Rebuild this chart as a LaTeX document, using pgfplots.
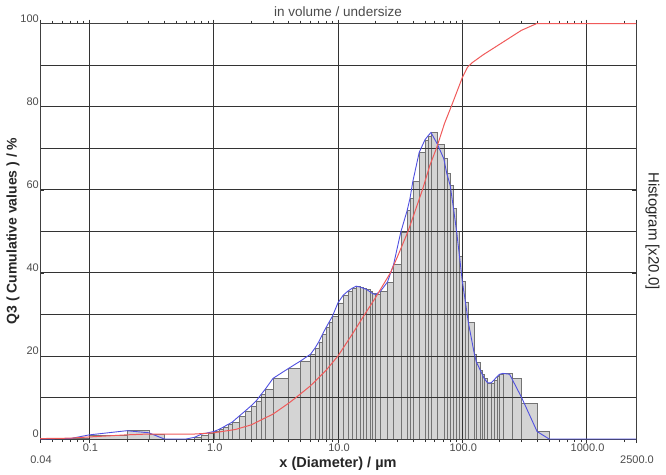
\documentclass[border=0pt]{standalone}
\usepackage{fontspec}
\setmainfont{Liberation Sans}
\usepackage{pgfplots}
\usepackage{pgfplotstable}
\pgfplotsset{compat=1.18}

\definecolor{histfill}{RGB}{212,212,212}
\definecolor{histedge}{RGB}{115,115,115}
\definecolor{cumred}{RGB}{240,90,90}
\definecolor{densblue}{RGB}{80,80,225}
\definecolor{labgray}{RGB}{75,75,75}

% histogram bars: left edge, height (last row = right edge of last bar)
\pgfplotstableread{
x h
0.04 0
0.07 0.1
0.1 0.9
0.2 2.0
0.3 1.2
0.4 0
0.5 0
0.6 0
0.7 0.5
0.8 1.0
0.9 1.3
1.0 1.8
1.1 2.3
1.2 2.9
1.3 3.5
1.4 4.0
1.6 5.5
1.8 6.8
2.0 8.0
2.2 9.2
2.4 10.7
2.6 12.0
3.0 14.6
4.0 17.0
5.0 18.8
6.0 20.4
6.5 21.8
7.0 23.4
7.5 25.2
8.0 26.8
8.5 28.2
9.0 29.5
10 32.8
11 34.6
12 35.6
13 36.3
14 36.8
15 36.6
16 36.3
17 36.0
18 35.5
19 35.0
20 34.8
22 35.6
25 37.8
28 42.0
32 49.8
36 55.0
38 58.0
40 62.0
45 69.0
50 72.0
53 73.0
56 73.8
63 71.0
71 67.5
75 64.0
80 61.0
85 55.5
90 50.0
95 44.0
100 38.0
106 33.0
112 28.0
125 20.5
130 18.5
140 16.5
145 15.5
150 14.6
160 13.5
170 13.5
180 14.2
190 15.0
200 15.6
212 15.8
250 14.6
300 8.5
400 1.8
500 0
}\bars

% density curve (blue)
\pgfplotstableread{
x d
0.04 0
0.07 0.1
0.1 1.0
0.2 2.0
0.3 1.5
0.4 0
0.5 0
0.6 0
0.7 0.4
0.8 1.2
0.9 1.5
1.0 1.8
1.1 2.3
1.2 2.9
1.3 3.5
1.4 4.0
1.6 5.5
1.8 6.8
2.0 8.0
2.2 9.2
2.4 10.7
2.6 12.0
3.0 14.6
4.0 17.0
5.0 18.8
6.0 20.4
6.5 21.8
7.0 23.4
7.5 25.2
8.0 26.8
8.5 28.2
9.0 29.5
10 32.8
11 34.6
12 35.6
13 36.3
14 36.8
15 36.6
16 36.3
17 36.0
18 35.5
19 35.0
20 34.8
22 35.6
25 37.8
28 42.0
32 49.8
36 55.0
38 58.0
40 62.0
45 69.0
50 72.0
53 73.0
56 73.8
63 71.0
71 67.5
75 64.0
80 61.0
85 55.5
90 50.0
95 44.0
100 38.0
106 33.0
112 28.0
125 20.5
130 18.5
140 16.5
145 15.5
150 14.6
160 13.5
170 13.5
180 14.2
190 15.0
200 15.6
212 15.8
240 15.6
250 14.6
300 10.0
400 1.8
500 0
2500 0
}\dens

% cumulative undersize (red)
\pgfplotstableread{
x q
0.04 0.1
0.07 0.2
0.1 0.5
0.2 1.0
0.3 1.2
0.4 1.2
0.7 1.2
0.8 1.3
1.0 1.5
1.5 2.3
2.0 3.4
3.0 6.0
4.0 8.6
4.6 10.0
6.0 12.8
8.0 16.5
10 20.0
13 25.2
16.4 30.0
20 34.0
26.4 40.0
30 43.8
36.6 50.0
40 53.3
47.8 60.0
55 66.0
62 70.0
72 76.0
82.6 80.5
100 87.0
110 89.5
120 90.6
147 92.5
206 95.3
299 98.4
395 100
2500 100
}\cumul

\begin{document}
\begin{tikzpicture}
\begin{axis}[
  at={(0,0)}, anchor=south west,
  scale only axis, width=596pt, height=415.3pt,
  set layers,
  xmode=log, xmin=0.04, xmax=2500, ymin=0, ymax=100,
  xtick={0.1,1,10,100,1000},
  xticklabels={0.1,1.0,10.0,100.0,1000.0},
  minor xtick={0.05,0.06,0.07,0.08,0.09,0.2,0.3,0.4,0.5,0.6,0.7,0.8,0.9,2,3,4,5,6,7,8,9,20,30,40,50,60,70,80,90,200,300,400,500,600,700,800,900,2000},
  extra x ticks={0.04,2500},
  extra x tick labels={0.04,2500.0},
  extra x tick style={grid=none, xticklabel style={yshift=-12pt}},
  ytick={0,20,40,60,80,100},
  yticklabels={0,20,40,60,80,100},
  minor ytick={10,30,50,70,90},
  xmajorgrids, ymajorgrids, yminorgrids,
  major grid style={black!80, line width=0.8pt},
  minor grid style={black!80, line width=0.8pt},
  axis line style={black!75, line width=0.9pt},
  xtick align=outside, ytick align=inside,
  major tick length=4pt, minor tick length=3pt,
  every tick/.style={black!80, line width=0.6pt},
  tick label style={font=\fontsize{11}{13}\selectfont, text=labgray},
  xticklabel style={anchor=north, inner sep=1pt, xshift=1pt},
  yticklabel style={anchor=south east, inner sep=1pt},
]
\addplot[ybar interval, fill=histfill, draw=histedge, line width=0.45pt,
  on layer=axis background] table[x=x, y=h] {\bars};
\addplot[densblue, line width=0.9pt, mark=none] table[x=x, y=d] {\dens};
\addplot[cumred, line width=1pt, mark=none] table[x=x, y=q] {\cumul};
\end{axis}
\node[font=\fontsize{13.5}{15}\selectfont, text=labgray] at (298pt,427pt) {in volume / undersize};
\node[font=\bfseries\fontsize{14.5}{16}\selectfont, text=black!85] at (298pt,-25pt) {x (Diameter) / µm};
\node[font=\bfseries\fontsize{14}{16}\selectfont, text=black!85, rotate=90] at (-27pt,208pt) {Q3 ( Cumulative values ) / \%};
\node[font=\fontsize{15}{17}\selectfont, text=black!85, rotate=-90] at (612.5pt,208pt) {Histogram [x20.0]};
\pgfresetboundingbox
\path[use as bounding box] (-40pt,-35pt) rectangle (626pt,439pt);
\end{tikzpicture}
\end{document}
